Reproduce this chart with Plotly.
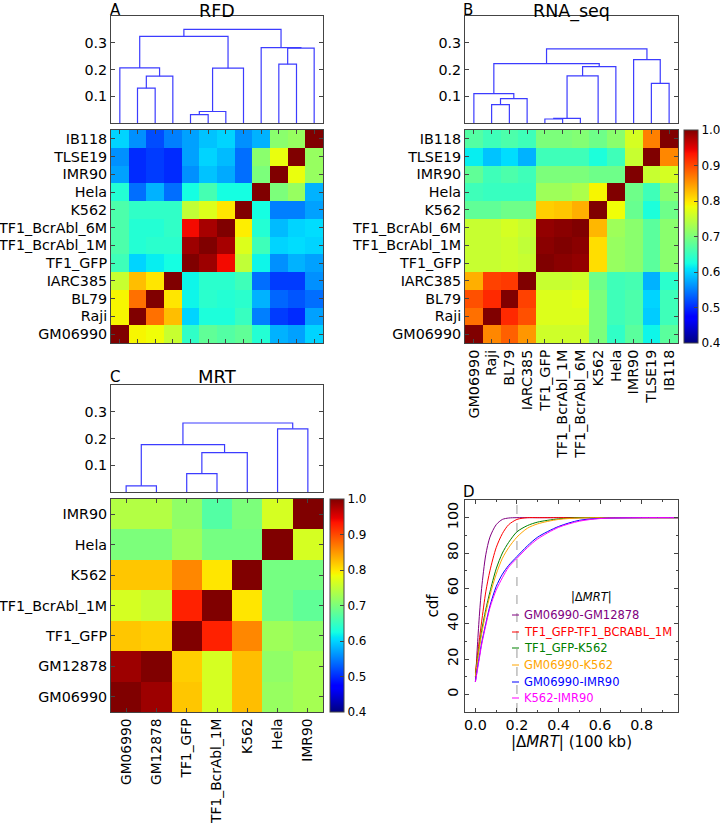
import plotly.graph_objects as go

W, H = 720, 823

# ---------------- data ----------------
labels12 = ["GM06990", "Raji", "BL79", "IARC385", "TF1_GFP", "TF1_BcrAbl_1M",
            "TF1_BcrAbl_6M", "K562", "Hela", "IMR90", "TLSE19", "IB118"]
labels7 = ["GM06990", "GM12878", "TF1_GFP", "TF1_BcrAbl_1M", "K562", "Hela", "IMR90"]
cbar_ticks = [0.4, 0.5, 0.6, 0.7, 0.8, 0.9, 1.0]
cbar_labels = ["0.4", "0.5", "0.6", "0.7", "0.8", "0.9", "1.0"]

# rows listed from top (IB118) to bottom (GM06990)
rfd_top_to_bottom = [
    [0.60, 0.56, 0.52, 0.55, 0.57, 0.59, 0.60, 0.56, 0.58, 0.71, 0.72, 1.00],
    [0.56, 0.50, 0.51, 0.50, 0.57, 0.60, 0.585, 0.54, 0.71, 0.78, 1.00, 0.72],
    [0.57, 0.50, 0.51, 0.50, 0.56, 0.59, 0.575, 0.54, 0.70, 1.00, 0.78, 0.72],
    [0.635, 0.54, 0.58, 0.54, 0.625, 0.66, 0.625, 0.625, 1.00, 0.70, 0.72, 0.58],
    [0.665, 0.645, 0.645, 0.645, 0.75, 0.77, 0.80, 1.00, 0.625, 0.55, 0.55, 0.57],
    [0.665, 0.635, 0.635, 0.645, 0.94, 0.98, 1.00, 0.795, 0.635, 0.585, 0.60, 0.605],
    [0.665, 0.635, 0.64, 0.64, 0.985, 1.00, 0.98, 0.77, 0.655, 0.60, 0.605, 0.60],
    [0.655, 0.60, 0.615, 0.625, 1.00, 0.985, 0.94, 0.75, 0.62, 0.56, 0.58, 0.57],
    [0.755, 0.825, 0.80, 1.00, 0.62, 0.64, 0.64, 0.655, 0.54, 0.51, 0.51, 0.56],
    [0.79, 0.875, 1.00, 0.80, 0.62, 0.64, 0.635, 0.64, 0.58, 0.535, 0.525, 0.54],
    [0.79, 1.00, 0.875, 0.825, 0.60, 0.63, 0.63, 0.65, 0.55, 0.51, 0.50, 0.57],
    [1.00, 0.79, 0.785, 0.755, 0.645, 0.68, 0.67, 0.68, 0.635, 0.58, 0.57, 0.60],
]

rna_top_to_bottom = [
    [0.67, 0.655, 0.665, 0.655, 0.70, 0.70, 0.705, 0.69, 0.71, 0.765, 0.865, 1.00],
    [0.615, 0.59, 0.605, 0.58, 0.655, 0.655, 0.655, 0.63, 0.655, 0.755, 1.00, 0.86],
    [0.68, 0.655, 0.665, 0.655, 0.70, 0.70, 0.70, 0.69, 0.69, 1.00, 0.755, 0.765],
    [0.655, 0.65, 0.65, 0.65, 0.725, 0.725, 0.735, 0.79, 1.00, 0.69, 0.655, 0.71],
    [0.68, 0.68, 0.69, 0.69, 0.815, 0.82, 0.835, 1.00, 0.785, 0.685, 0.63, 0.69],
    [0.755, 0.755, 0.765, 0.755, 0.99, 0.995, 1.00, 0.83, 0.725, 0.71, 0.675, 0.71],
    [0.755, 0.755, 0.76, 0.75, 0.995, 1.00, 0.995, 0.805, 0.72, 0.71, 0.675, 0.71],
    [0.755, 0.755, 0.76, 0.755, 1.00, 0.995, 0.99, 0.805, 0.72, 0.71, 0.675, 0.71],
    [0.835, 0.905, 0.91, 1.00, 0.755, 0.755, 0.76, 0.69, 0.655, 0.66, 0.58, 0.64],
    [0.895, 0.92, 1.00, 0.905, 0.77, 0.77, 0.775, 0.70, 0.655, 0.665, 0.60, 0.655],
    [0.875, 1.00, 0.92, 0.895, 0.77, 0.77, 0.77, 0.70, 0.655, 0.665, 0.595, 0.655],
    [1.00, 0.86, 0.885, 0.85, 0.76, 0.76, 0.76, 0.70, 0.645, 0.675, 0.62, 0.675],
]

mrt_top_to_bottom = [
    [0.74, 0.74, 0.715, 0.67, 0.70, 0.765, 1.00],
    [0.70, 0.70, 0.725, 0.695, 0.695, 1.00, 0.765],
    [0.82, 0.82, 0.86, 0.80, 1.00, 0.695, 0.695],
    [0.765, 0.755, 0.925, 1.00, 0.80, 0.695, 0.68],
    [0.82, 0.815, 1.00, 0.925, 0.86, 0.725, 0.715],
    [0.985, 1.00, 0.815, 0.765, 0.825, 0.715, 0.73],
    [1.00, 0.985, 0.82, 0.765, 0.825, 0.72, 0.73],
]

# dendrogram merges: (member a, member b, height); new cluster ids start at n
rfd_merges = [(1, 2, 0.130), (12, 3, 0.175), (0, 13, 0.206), (4, 5, 0.031),
              (15, 6, 0.043), (16, 7, 0.205), (14, 17, 0.324), (9, 10, 0.220),
              (19, 11, 0.280), (8, 20, 0.282), (18, 21, 0.350)]
rna_merges = [(1, 2, 0.069), (12, 3, 0.091), (0, 13, 0.110), (4, 5, 0.015),
              (15, 6, 0.017), (16, 7, 0.176), (17, 8, 0.211), (14, 18, 0.222),
              (10, 11, 0.148), (9, 20, 0.237), (19, 21, 0.277)]
mrt_merges = [(0, 1, 0.023), (2, 3, 0.069), (8, 4, 0.147), (7, 9, 0.177),
              (5, 6, 0.236), (10, 11, 0.258)]

# cdf of |dMRT|
cdf_x = [0, 0.01, 0.02, 0.03, 0.05, 0.07, 0.1, 0.13, 0.16, 0.2, 0.25, 0.3, 0.4, 0.5, 0.6, 0.8, 1.0]
cdf_names = ["GM06990-GM12878", "TF1_GFP-TF1_BCRABL_1M", "TF1_GFP-K562",
             "GM06990-K562", "GM06990-IMR90", "K562-IMR90"]
cdf_gm_gm = [7, 28, 46, 60, 79, 89, 96, 99, 99.8, 100, 100, 100, 100, 100, 100, 100, 100]
cdf_tf_bcr = [12, 22, 32, 41, 58, 70, 83, 91, 96, 99, 100, 100, 100, 100, 100, 100, 100]
cdf_tf_k562 = [10, 20, 28, 36, 48, 58, 71, 80, 86, 92, 95.5, 97.5, 99.3, 100, 100, 100, 100]
cdf_gm_k562 = [10, 19, 27, 34, 46, 56, 68, 77, 83, 89, 94, 96.5, 99, 99.8, 100, 100, 100]
cdf_gm_imr = [7, 15, 22, 29, 40, 50, 61, 68, 73, 78, 84, 89, 95, 98.5, 99.6, 100, 100]
cdf_k562_imr = [7, 14, 21, 28, 39, 49, 59, 66, 72, 77, 83, 88, 94.5, 98, 99.5, 100, 100]
cdf_series = [cdf_gm_gm, cdf_tf_bcr, cdf_tf_k562, cdf_gm_k562, cdf_gm_imr, cdf_k562_imr]
cdf_colors = ["#800080", "#FF0000", "#008000", "#FFA500", "#0000FF", "#FF00FF"]

# ---------------- styling helpers ----------------
FONT = "DejaVu Sans"
FRAME = "#444444"
TICKFONT = dict(family=FONT, size=14.3, color="black")
CBFONT = dict(family=FONT, size=12, color="black")


def jet_scale():
    r = [(0, 0), (0.35, 0), (0.66, 1), (0.89, 1), (1, 0.5)]
    g = [(0, 0), (0.125, 0), (0.375, 1), (0.64, 1), (0.91, 0), (1, 0)]
    b = [(0, 0.5), (0.11, 1), (0.34, 1), (0.65, 0), (1, 0)]

    def interp(pts, t):
        for (x0, y0), (x1, y1) in zip(pts[:-1], pts[1:]):
            if x0 <= t <= x1:
                return y0 + (y1 - y0) * (t - x0) / (x1 - x0)
        return pts[-1][1]

    stops = sorted(set([p[0] for p in r + g + b]))
    return [[t, "rgb(%d,%d,%d)" % (round(255 * interp(r, t)), round(255 * interp(g, t)),
                                   round(255 * interp(b, t)))] for t in stops]


JET = jet_scale()


def xd(a, b):
    return [a / W, b / W]


def yd(top, bottom):
    return [1 - bottom / H, 1 - top / H]


def dendro_xy(merges, n):
    pos = {i: (float(i), 0.0) for i in range(n)}
    xs, ys = [], []
    for k, (a, b, h) in enumerate(merges):
        xa, ha = pos[a]
        xb, hb = pos[b]
        xs += [xa, xa, xb, xb, None]
        ys += [ha, h, h, hb, None]
        pos[n + k] = ((xa + xb) / 2, h)
    return xs, ys


base_axis = dict(showline=True, linecolor=FRAME, linewidth=1, mirror="ticks",
                 ticks="inside", ticklen=4, tickcolor=FRAME, showgrid=False,
                 zeroline=False, tickfont=TICKFONT, automargin=False)

fig = go.Figure()
layout = dict(width=W, height=H, margin=dict(l=0, r=0, t=0, b=0, pad=0, autoexpand=False),
              paper_bgcolor="white", plot_bgcolor="white", showlegend=False)

annotations = []


def ann(text, xpx, ypx, size, xanchor="left", color="black", yanchor="middle"):
    annotations.append(dict(text=text, x=xpx / W, y=1 - ypx / H, xref="paper", yref="paper",
                            xanchor=xanchor, yanchor=yanchor, showarrow=False, borderpad=0,
                            font=dict(family=FONT, size=size, color=color)))


panels = [
    # (dendro idx, heat idx, labels, merges, matrix, x px, dendro y px, heat y px,
    #  colorbar x px, x label font size)
    (1, 2, labels12, rfd_merges, rfd_top_to_bottom, (111, 323), (16, 123), (130, 343), None, None),
    (3, 4, labels12, rna_merges, rna_top_to_bottom, (465, 678), (16, 123), (130, 343), 684, 14.3),
    (5, 6, labels7, mrt_merges, mrt_top_to_bottom, (111, 323), (385, 492), (499, 712), 330, 13.8),
]

for di, hi, labs, merges, mat, xpx, dpx, hpx, cbx, xfs in panels:
    n = len(labs)
    dx, dy = dendro_xy(merges, n)
    fig.add_trace(go.Scatter(x=dx, y=dy, mode="lines",
                             line=dict(color="rgb(60,60,255)", width=1.2),
                             xaxis="x%d" % di, yaxis="y%d" % di, hoverinfo="skip"))
    z = mat[::-1]
    hm = dict(z=z, x=list(range(n)), y=list(range(n)), colorscale=JET,
              zmin=0.4, zmax=1.0, xaxis="x%d" % hi, yaxis="y%d" % hi)
    if cbx is None:
        hm["showscale"] = False
    else:
        hm["colorbar"] = dict(x=cbx / W, xanchor="left", y=1 - (hpx[0] + hpx[1]) / 2 / H,
                              yanchor="middle", len=hpx[1] - hpx[0], lenmode="pixels",
                              thickness=14, thicknessmode="pixels", outlinewidth=1,
                              outlinecolor=FRAME, ticks="inside", ticklen=4,
                              tickcolor=FRAME, tickvals=cbar_ticks, ticktext=cbar_labels,
                              tickfont=CBFONT, xpad=0, ypad=0)
    fig.add_trace(go.Heatmap(**hm))

    layout["xaxis%d" % di] = dict(base_axis, domain=xd(*xpx), range=[-0.5, n - 0.5],
                                  showticklabels=False, ticks="", anchor="y%d" % di)
    layout["yaxis%d" % di] = dict(base_axis, domain=yd(*dpx), range=[0, 0.4],
                                  tickvals=[0.1, 0.2, 0.3], ticktext=["0.1", "0.2", "0.3"],
                                  anchor="x%d" % di)
    xax = dict(base_axis, domain=xd(*xpx), range=[-0.5, n - 0.5],
               tickvals=list(range(n)), ticktext=labs, tickangle=-90,
               anchor="y%d" % hi)
    if xfs is None:
        xax["showticklabels"] = False
    else:
        xax["tickfont"] = dict(family=FONT, size=xfs, color="black")
    layout["xaxis%d" % hi] = xax
    layout["yaxis%d" % hi] = dict(base_axis, domain=yd(*hpx), range=[-0.5, n - 0.5],
                                  tickvals=list(range(n)), ticktext=labs,
                                  anchor="x%d" % hi)

# panel D
for name, ys, col in zip(cdf_names, cdf_series, cdf_colors):
    fig.add_trace(go.Scatter(x=cdf_x, y=ys, mode="lines", name=name,
                             line=dict(color=col, width=1, shape="spline", smoothing=0.8),
                             xaxis="x7", yaxis="y7", hoverinfo="skip"))

layout["xaxis7"] = dict(base_axis, domain=xd(465, 678), range=[-0.05, 0.975],
                        tick0=0, dtick=0.2, tickformat=".1f", anchor="y7",
                        minor=dict(ticks="inside", ticklen=2, dtick=0.1, tick0=0, tickcolor=FRAME),
                        title=dict(text="|Δ<i>MRT</i>| (100 kb)",
                                   font=dict(family=FONT, size=15, color="black"), standoff=3))
layout["yaxis7"] = dict(base_axis, domain=yd(500, 712), range=[-10, 110],
                        tick0=0, dtick=20, tickangle=-90, anchor="x7",
                        minor=dict(ticks="inside", ticklen=2, dtick=10, tick0=0, tickcolor=FRAME),
                        title=dict(text="cdf", font=dict(family=FONT, size=15, color="black"),
                                   standoff=3))

shapes = [dict(type="line", xref="x7", yref="y7 domain", x0=0.2, x1=0.2, y0=0, y1=1,
               line=dict(color="#999999", width=1, dash="dash"), layer="below")]

ann("A", 109, 0, 15, yanchor="top")
ann("RFD", 217, 0, 17.5, "center", yanchor="top")
ann("B", 462, 0, 15, yanchor="top")
ann("RNA_seq", 571.5, 0, 17.5, "center", yanchor="top")
ann("C", 109, 377, 15)
ann("MRT", 217, 376, 18, "center")
ann("D", 462, 492, 15)

ann("|Δ<i>MRT</i>|", 591, 597, 11.5, "center")
leg_y = [615, 632, 648, 665, 682, 698]
for name, col, yy in zip(cdf_names, cdf_colors, leg_y):
    ann(name, 523, yy, 11.5, "left", col)
    shapes.append(dict(type="line", xref="paper", yref="paper", x0=512 / W, x1=519 / W,
                       y0=1 - yy / H, y1=1 - yy / H, line=dict(color=col, width=1)))

layout["shapes"] = shapes
layout["annotations"] = annotations
fig.update_layout(**layout)

fig.write_html("out.html",
               config={"displayModeBar": False},
               post_script="document.body.style.margin='0px';"
                           "document.body.style.padding='0px';"
                           "document.body.style.overflow='hidden';")
